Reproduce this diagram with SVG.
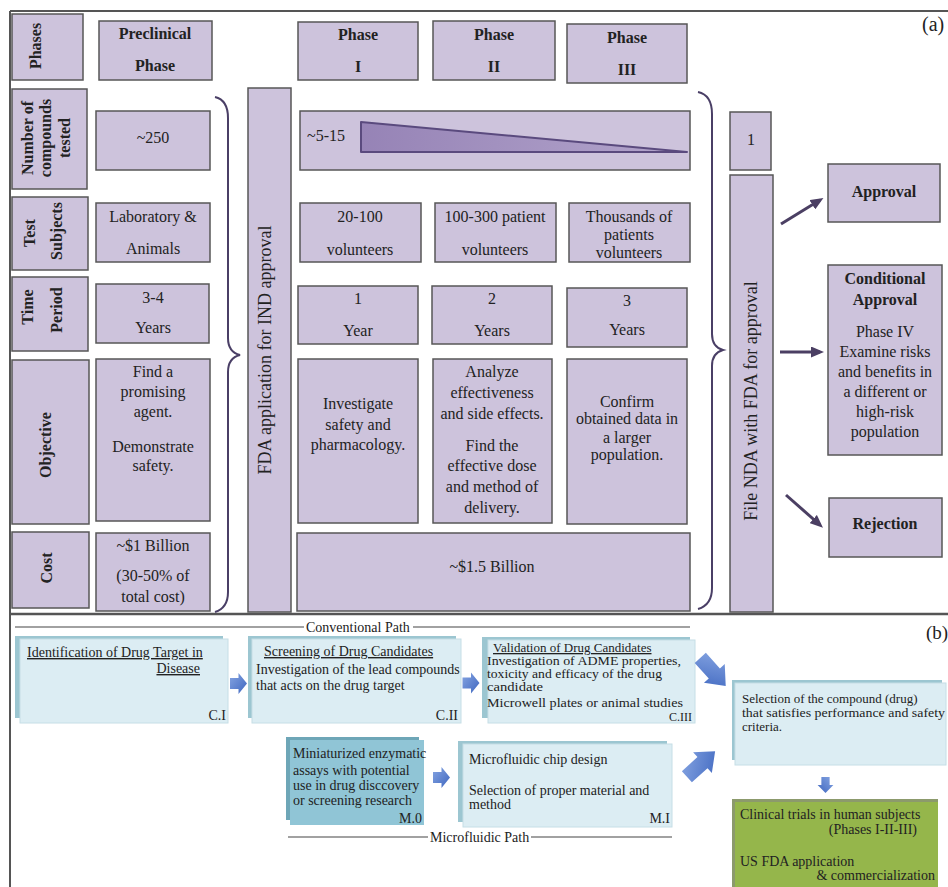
<svg xmlns="http://www.w3.org/2000/svg" width="948" height="887" viewBox="0 0 948 887">
<style>
.bx{fill:#cdc3dc;stroke:#575757;stroke-width:1.5}
.t{font-family:"Liberation Serif","Times New Roman",serif;font-size:16px;fill:#222;text-anchor:middle}
.b{font-weight:bold}
.st{text-anchor:start}
.en{text-anchor:end}
.s{font-size:14px}
.xs{font-size:12px}
.ss{font-size:13px}
.u{text-decoration:underline}
.fr{stroke:#555;stroke-width:2;fill:none}
.br{fill:none;stroke:#4a3f66;stroke-width:2}
.ar{stroke:#4b3f63;stroke-width:3;fill:none}
.cbk{fill:#9cc6d1}
.cfr{fill:#dcedf3;stroke:#c6dee6;stroke-width:1}
.mbk{fill:#6ea6b7}
.mfr{fill:#90c5d6}
.gbk{fill:#8c9a6c}
.gfr{fill:#95b64b}
.pl{stroke:#444;stroke-width:1.2}
.blk{fill:url(#bg)}
</style>
<defs>
<marker id="ah" markerUnits="userSpaceOnUse" markerWidth="13" markerHeight="11" refX="9" refY="5.5" orient="auto">
<path d="M0,0 L13,5.5 L0,11 Z" fill="#4b3f63"/>
</marker>
<linearGradient id="bg" x1="0" y1="0" x2="1" y2="1">
<stop offset="0" stop-color="#86a5e2"/>
<stop offset="1" stop-color="#3e66bf"/>
</linearGradient>
<linearGradient id="tg" x1="0" y1="0" x2="1" y2="0">
<stop offset="0" stop-color="#9683b6"/>
<stop offset="1" stop-color="#b3a5cc"/>
</linearGradient>
<path id="sa" d="M-8.5,-5.5 L0,-5.5 L0,-10.5 L8.5,0 L0,10.5 L0,5.5 L-8.5,5.5 Z"/>
<path id="la" d="M-19,-7.5 L2,-7.5 L2,-14 L19,0 L2,14 L2,7.5 L-19,7.5 Z"/>
</defs>
<rect width="948" height="887" fill="#fff"/>

<!-- frame -->
<g id="frame">
<path class="fr" d="M10,11 H948 M10,11 V887"/>
<path d="M10,614 H948" stroke="#555" stroke-width="2.5"/>
<text class="t" x="922" y="31" style="font-size:20px;text-anchor:start">(a)</text>
<text class="t" x="926" y="639" style="font-size:19px;text-anchor:start">(b)</text>
</g>

<!-- row labels -->
<g id="lbl-phases"><rect class="bx" x="12" y="14" width="71" height="66"/>
<text class="t b" transform="translate(41,46) rotate(-90)">Phases</text></g>
<g id="lbl-number"><rect class="bx" x="12" y="89" width="75" height="100"/>
<text class="t b" transform="translate(33,138) rotate(-90)">Number of</text>
<text class="t b" transform="translate(51,138) rotate(-90)">compounds</text>
<text class="t b" transform="translate(70,138) rotate(-90)">tested</text></g>
<g id="lbl-subjects"><rect class="bx" x="12" y="197" width="76" height="73"/>
<text class="t b" transform="translate(35,233) rotate(-90)">Test</text>
<text class="t b" transform="translate(62,231) rotate(-90)">Subjects</text></g>
<g id="lbl-time"><rect class="bx" x="12" y="277" width="76" height="74"/>
<text class="t b" transform="translate(33,307) rotate(-90)">Time</text>
<text class="t b" transform="translate(62,310) rotate(-90)">Period</text></g>
<g id="lbl-objective"><rect class="bx" x="12" y="360" width="77" height="164"/>
<text class="t b" transform="translate(51,445) rotate(-90)">Objective</text></g>
<g id="lbl-cost"><rect class="bx" x="12" y="532" width="77" height="76"/>
<text class="t b" transform="translate(52,568) rotate(-90)">Cost</text></g>

<!-- preclinical column -->
<g id="preclinical"><rect class="bx" x="99" y="21" width="113" height="59"/>
<text class="t b" x="155" y="39">Preclinical</text><text class="t b" x="155" y="71">Phase</text></g>
<g id="pre-compounds"><rect class="bx" x="96" y="111" width="114" height="59"/>
<text class="t" x="153" y="143">~250</text></g>
<g id="pre-subjects"><rect class="bx" x="96" y="203" width="114" height="59"/>
<text class="t" x="153" y="222">Laboratory &amp;</text><text class="t" x="153" y="254">Animals</text></g>
<g id="pre-time"><rect class="bx" x="96" y="284" width="113" height="59"/>
<text class="t" x="153" y="303">3-4</text><text class="t" x="153" y="333">Years</text></g>
<g id="pre-objective"><rect class="bx" x="96" y="359" width="114" height="162"/>
<text class="t" x="153" y="377">Find a</text><text class="t" x="153" y="397">promising</text>
<text class="t" x="153" y="417">agent.</text><text class="t" x="153" y="452">Demonstrate</text>
<text class="t" x="153" y="471">safety.</text></g>
<g id="pre-cost"><rect class="bx" x="96" y="533" width="114" height="78"/>
<text class="t" x="153" y="551">~$1 Billion</text><text class="t" x="153" y="581">(30-50% of</text>
<text class="t" x="153" y="602">total cost)</text></g>

<!-- IND -->
<g id="ind"><rect class="bx" x="248" y="88" width="43" height="524"/>
<text class="t" style="font-size:18px" transform="translate(271,350) rotate(-90)">FDA application for IND approval</text></g>

<!-- clinical phases -->
<g id="phase1"><rect class="bx" x="298" y="22" width="120" height="58"/>
<text class="t b" x="358" y="40">Phase</text><text class="t b" x="358" y="72">I</text></g>
<g id="phase2"><rect class="bx" x="433" y="21" width="122" height="59"/>
<text class="t b" x="494" y="40">Phase</text><text class="t b" x="494" y="72">II</text></g>
<g id="phase3"><rect class="bx" x="567" y="24" width="120" height="59"/>
<text class="t b" x="627" y="43">Phase</text><text class="t b" x="627" y="75">III</text></g>

<g id="clin-compounds"><rect class="bx" x="300" y="111" width="390" height="59"/>
<text class="t st" x="307" y="141">~5-15</text>
<path d="M361,122 L361,152 L687,152 Z" fill="url(#tg)" stroke="#5a4a7e" stroke-width="2" stroke-linejoin="round"/></g>

<g id="p1-subjects"><rect class="bx" x="300" y="203" width="121" height="59"/>
<text class="t" x="360" y="222">20-100</text><text class="t" x="360" y="255">volunteers</text></g>
<g id="p2-subjects"><rect class="bx" x="435" y="203" width="121" height="59"/>
<text class="t" x="495" y="222">100-300 patient</text><text class="t" x="495" y="255">volunteers</text></g>
<g id="p3-subjects"><rect class="bx" x="569" y="203" width="121" height="59"/>
<text class="t" x="629" y="222">Thousands of</text><text class="t" x="629" y="240">patients</text>
<text class="t" x="629" y="258">volunteers</text></g>

<g id="p1-time"><rect class="bx" x="298" y="286" width="120" height="58"/>
<text class="t" x="358" y="304">1</text><text class="t" x="358" y="336">Year</text></g>
<g id="p2-time"><rect class="bx" x="432" y="286" width="120" height="58"/>
<text class="t" x="492" y="304">2</text><text class="t" x="492" y="336">Years</text></g>
<g id="p3-time"><rect class="bx" x="567" y="288" width="120" height="59"/>
<text class="t" x="627" y="306">3</text><text class="t" x="627" y="335">Years</text></g>

<g id="p1-objective"><rect class="bx" x="298" y="359" width="120" height="164"/>
<text class="t" x="358" y="409">Investigate</text><text class="t" x="358" y="430">safety and</text>
<text class="t" x="358" y="450">pharmacology.</text></g>
<g id="p2-objective"><rect class="bx" x="433" y="359" width="119" height="164"/>
<text class="t" x="492" y="377">Analyze</text><text class="t" x="492" y="398">effectiveness</text>
<text class="t" x="492" y="419">and side effects.</text><text class="t" x="492" y="451">Find the</text>
<text class="t" x="492" y="471">effective dose</text><text class="t" x="492" y="492">and method of</text>
<text class="t" x="492" y="513">delivery.</text></g>
<g id="p3-objective"><rect class="bx" x="567" y="359" width="120" height="165"/>
<text class="t" x="627" y="407">Confirm</text><text class="t" x="627" y="424">obtained data in</text>
<text class="t" x="627" y="443">a larger</text><text class="t" x="627" y="460">population.</text></g>

<g id="clin-cost"><rect class="bx" x="297" y="533" width="393" height="78"/>
<text class="t" x="492" y="572">~$1.5 Billion</text></g>

<!-- NDA -->
<g id="nda-one"><rect class="bx" x="730" y="112" width="41" height="58"/>
<text class="t" x="751" y="145">1</text></g>
<g id="nda"><rect class="bx" x="730" y="175" width="43" height="437"/>
<text class="t" style="font-size:18px" transform="translate(757,401) rotate(-90)">File NDA with FDA for approval</text></g>

<g id="approval"><rect class="bx" x="828" y="164" width="112" height="58"/>
<text class="t b" x="884" y="197">Approval</text></g>
<g id="conditional"><rect class="bx" x="828" y="265" width="114" height="190"/>
<text class="t b" x="885" y="284">Conditional</text><text class="t b" x="885" y="305">Approval</text>
<text class="t" x="885" y="337">Phase IV</text><text class="t" x="885" y="357">Examine risks</text>
<text class="t" x="885" y="377">and benefits in</text><text class="t" x="885" y="397">a different or</text>
<text class="t" x="885" y="417">high-risk</text><text class="t" x="885" y="437">population</text></g>
<g id="rejection"><rect class="bx" x="829" y="498" width="113" height="59"/>
<text class="t b" x="885" y="529">Rejection</text></g>

<!-- braces -->
<g id="braces">
<path class="br" d="M215,97 Q228,100 228,118 L228,338 Q228,352 240,355 Q228,358 228,372 L228,592 Q228,608 215,612"/>
<path class="br" d="M698,92 Q712,95 712,114 L712,334 Q712,347 723,350 Q712,353 712,366 L712,588 Q712,605 698,609"/>
</g>

<!-- panel b nodes -->
<g id="c1"><rect class="cbk" x="15" y="636" width="208" height="82"/><rect class="cfr" x="20" y="639" width="208" height="84"/>
<text class="t st s u" x="27" y="657">Identification of Drug Target in</text>
<text class="t en s u" x="200" y="673">Disease</text>
<text class="t en s" x="226" y="720">C.I</text></g>
<g id="c2"><rect class="cbk" x="248" y="636" width="208" height="82"/><rect class="cfr" x="252" y="639" width="209" height="84"/>
<text class="t st s u" x="264" y="656">Screening of Drug Candidates</text>
<text class="t st s" x="256" y="674">Investigation of the lead compounds</text>
<text class="t st s" x="256" y="690">that acts on the drug target</text>
<text class="t en s" x="458" y="720">C.II</text></g>
<g id="c3"><rect class="cbk" x="482" y="637" width="208" height="81"/><rect class="cfr" x="488" y="640" width="207" height="83"/>
<text class="t st ss u" x="493" y="652">Validation of Drug Candidates</text>
<text class="t st xs" x="487" y="665" textLength="194" lengthAdjust="spacingAndGlyphs">Investigation of ADME properties,</text>
<text class="t st xs" x="487" y="678" textLength="175" lengthAdjust="spacingAndGlyphs">toxicity and efficacy of the drug</text>
<text class="t st xs" x="487" y="691" textLength="56" lengthAdjust="spacingAndGlyphs">candidate</text>
<text class="t st xs" x="487" y="707" textLength="196" lengthAdjust="spacingAndGlyphs">Microwell plates or animal studies</text>
<text class="t en xs" x="692" y="721">C.III</text></g>
<g id="selection"><rect class="cbk" x="732" y="680" width="210" height="80"/><rect class="cfr" x="735" y="683" width="211" height="82"/>
<text class="t st ss" x="742" y="703">Selection of the compound (drug)</text>
<text class="t st ss" x="742" y="717" textLength="203" lengthAdjust="spacingAndGlyphs">that satisfies performance and safety</text>
<text class="t st ss" x="742" y="731">criteria.</text></g>
<g id="m0"><rect class="mbk" x="286" y="737" width="133" height="83"/><rect class="mfr" x="290" y="740" width="134" height="85"/>
<text class="t st s" x="293" y="758">Miniaturized enzymatic</text>
<text class="t st s" x="293" y="775">assays with potential</text>
<text class="t st s" x="293" y="790">use in drug disccovery</text>
<text class="t st s" x="293" y="805">or screening research</text>
<text class="t en s" x="422" y="823">M.0</text></g>
<g id="m1"><rect class="cbk" x="458" y="741" width="209" height="81"/><rect class="cfr" x="463" y="744" width="209" height="83"/>
<text class="t st s" x="469" y="764">Microfluidic chip design</text>
<text class="t st s" x="469" y="795">Selection of proper material and</text>
<text class="t st s" x="469" y="809">method</text>
<text class="t en s" x="670" y="823">M.I</text></g>
<g id="clinical"><rect class="gbk" x="732" y="799" width="206" height="90"/><rect class="gfr" x="735" y="802" width="203" height="88"/>
<text class="t st s" x="740" y="819">Clinical trials in human subjects</text>
<text class="t en s" x="917" y="834">(Phases I-II-III)</text>
<text class="t st s" x="740" y="866">US FDA application</text>
<text class="t en s" x="935" y="880">&amp; commercialization</text></g>

<g id="path-labels">
<path class="pl" d="M15,627 H304 M413,627 H690"/>
<text class="t st s" x="306" y="632">Conventional Path</text>
<path class="pl" d="M288,837 H428 M531,837 H672"/>
<text class="t st s" x="430" y="842">Microfluidic Path</text>
</g>

<!-- connectors -->
<g id="connectors">
<line class="ar" x1="781" y1="224" x2="820" y2="200" marker-end="url(#ah)"/>
<line class="ar" x1="780" y1="352" x2="820" y2="352" marker-end="url(#ah)"/>
<line class="ar" x1="786" y1="495" x2="820" y2="525" marker-end="url(#ah)"/>
<use href="#sa" class="blk" transform="translate(238.5,683.5)"/>
<use href="#sa" class="blk" transform="translate(471,683)"/>
<use href="#sa" class="blk" transform="translate(441.5,777.5)"/>
<use href="#sa" class="blk" transform="translate(825.5,785) rotate(90) scale(0.95,0.75)"/>
<use href="#la" class="blk" transform="translate(713,672) rotate(48)"/>
<use href="#la" class="blk" transform="translate(701,764) rotate(-42)"/>
</g>
</svg>
